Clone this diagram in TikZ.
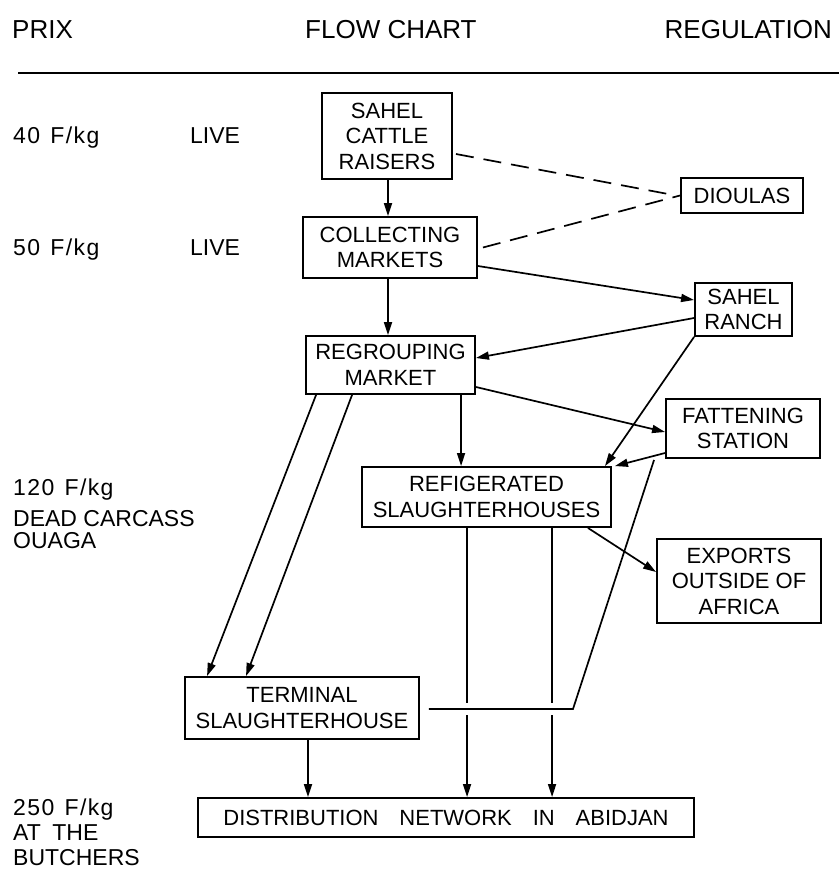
\documentclass[tikz,border=0pt]{standalone}
\usepackage{fontspec}
\setmainfont{Liberation Sans}
\newfontfamily\pricefont[LetterSpace=6]{Liberation Sans}
\usetikzlibrary{arrows.meta}
\begin{document}
\begin{tikzpicture}[x=1pt,y=-1pt,
  box/.style={draw, line width=1.9pt, inner sep=0pt, align=center, font=\fontsize{22}{25.5}\selectfont},
  lab/.style={anchor=base west, inner sep=0pt, font=\fontsize{23}{26}\selectfont},
  price/.style={lab, font=\pricefont\fontsize{23}{26}\selectfont},
  hdr/.style={inner sep=0pt, font=\fontsize{26}{30}\selectfont},
  conn/.style={line width=1.7pt},
  arr/.style={conn, -{Triangle[length=13pt,width=8pt]}},
  dashlink/.style={conn, dash pattern=on 18pt off 10pt}]
\useasboundingbox (0,0) rectangle (839,870);

% header
\node[hdr, anchor=base west] (hprix) at (12,38) {PRIX};
\node[hdr, anchor=base west] (hflow) at (305,38) {FLOW CHART};
\node[hdr, anchor=base east] (hreg) at (832,38) {REGULATION};
\coordinate (rl) at (18,73);
\coordinate (rr) at (839,73);
\draw[line width=2.6pt] (rl) -- (rr);

% left labels
\node[price] (p40) at (13,143) {40\hspace{0.45em}F/kg};
\node[lab] (l40) at (190,143) {LIVE};
\node[price] (p50) at (13,255) {50\hspace{0.45em}F/kg};
\node[lab] (l50) at (190,255) {LIVE};
\node[price] (p120) at (13,495) {120\hspace{0.45em}F/kg};
\node[lab] (dc) at (13,526) {DEAD CARCASS};
\node[lab] (ou) at (13,548) {OUAGA};
\node[price] (p250) at (13,815) {250\hspace{0.45em}F/kg};
\node[lab] (at) at (13,840) {AT\hspace{0.5em}THE};
\node[lab] (bu) at (13,865) {BUTCHERS};

% boxes
\node[box, minimum width=130pt, minimum height=86pt] (sahel) at (387,136) {SAHEL\\CATTLE\\RAISERS};
\node[box, minimum width=174pt, minimum height=61pt] (collect) at (390,247.5) {COLLECTING\\MARKETS};
\node[box, minimum width=169pt, minimum height=58pt] (regroup) at (390.5,365) {REGROUPING\\MARKET};
\node[box, minimum width=122pt, minimum height=35pt] (dioulas) at (742,195.5) {DIOULAS};
\node[box, minimum width=97pt, minimum height=53pt] (ranch) at (743.5,309.5) {SAHEL\\RANCH};
\node[box, minimum width=154pt, minimum height=59pt] (fatten) at (743,428.5) {FATTENING\\STATION};
\node[box, minimum width=249pt, minimum height=60pt] (refrig) at (486.5,497) {REFIGERATED\\SLAUGHTERHOUSES};
\node[box, minimum width=164pt, minimum height=84pt] (exports) at (739,581) {EXPORTS\\OUTSIDE OF\\AFRICA};
\node[box, minimum width=234pt, minimum height=62pt] (terminal) at (302,708) {TERMINAL\\SLAUGHTERHOUSE};
\node[box, minimum width=496pt, minimum height=39pt] (distrib) at (446,817.5) {DISTRIBUTION\hspace{0.95em}NETWORK\hspace{0.95em}IN\hspace{0.95em}ABIDJAN};

% dashed links
\draw[dashlink] ([xshift=3pt,yshift=-18pt]sahel.east) -- ([xshift=-4pt]dioulas.west);
\draw[dashlink] ([xshift=5pt]collect.east) -- (dioulas.west);

% arrows
\draw[arr] ([xshift=1pt]sahel.south) -- ([xshift=1pt]sahel.south |- collect.north);
\draw[arr] ([xshift=1pt]sahel.south |- collect.south) -- ([xshift=1pt]sahel.south |- regroup.north);
\draw[arr] ([yshift=-18.5pt]collect.east) -- ([yshift=9.5pt]ranch.west);
\draw[arr] ([yshift=-8.5pt]ranch.west) -- ([yshift=7pt]regroup.east);
\draw[arr] (ranch.south west) -- ([xshift=-7pt]refrig.north east);
\draw[arr] ([yshift=-22pt]regroup.east) -- ([yshift=-3.5pt]fatten.west);
\draw[arr] ([yshift=-24.5pt]fatten.west) -- ([xshift=3pt]refrig.north east);
\coordinate (r1) at ([xshift=100pt]refrig.north west);
\draw[arr] (regroup.south -| r1) -- (r1);
\draw[arr] ([xshift=11pt]regroup.south west) -- ([xshift=23pt]terminal.north west);
\draw[arr] ([xshift=47pt]regroup.south west) -- ([xshift=62pt]terminal.north west);
\draw[arr] ([xshift=-24pt]refrig.south east) -- ([yshift=9pt]exports.west);
\coordinate (v1) at ([xshift=106pt]refrig.south west);
\coordinate (v2) at ([xshift=191pt]refrig.south west);
\draw[arr] (v1) -- (v1 |- distrib.north);
\draw[arr] (v2) -- (v2 |- distrib.north);
\coordinate (t1) at ([xshift=6pt]terminal.south);
\draw[arr] (t1) -- (t1 |- distrib.north);

% fattening station line to terminal slaughterhouse
\coordinate (fs) at ([xshift=-11pt,yshift=-1pt]fatten.south west);
\coordinate (jn) at (573,709);
\coordinate (te) at ([xshift=9pt,yshift=-1pt]terminal.east);
\draw[white, line width=12pt] (jn) -- (te);
\draw[conn] (fs) -- (jn) -- (te);
\end{tikzpicture}
\end{document}
